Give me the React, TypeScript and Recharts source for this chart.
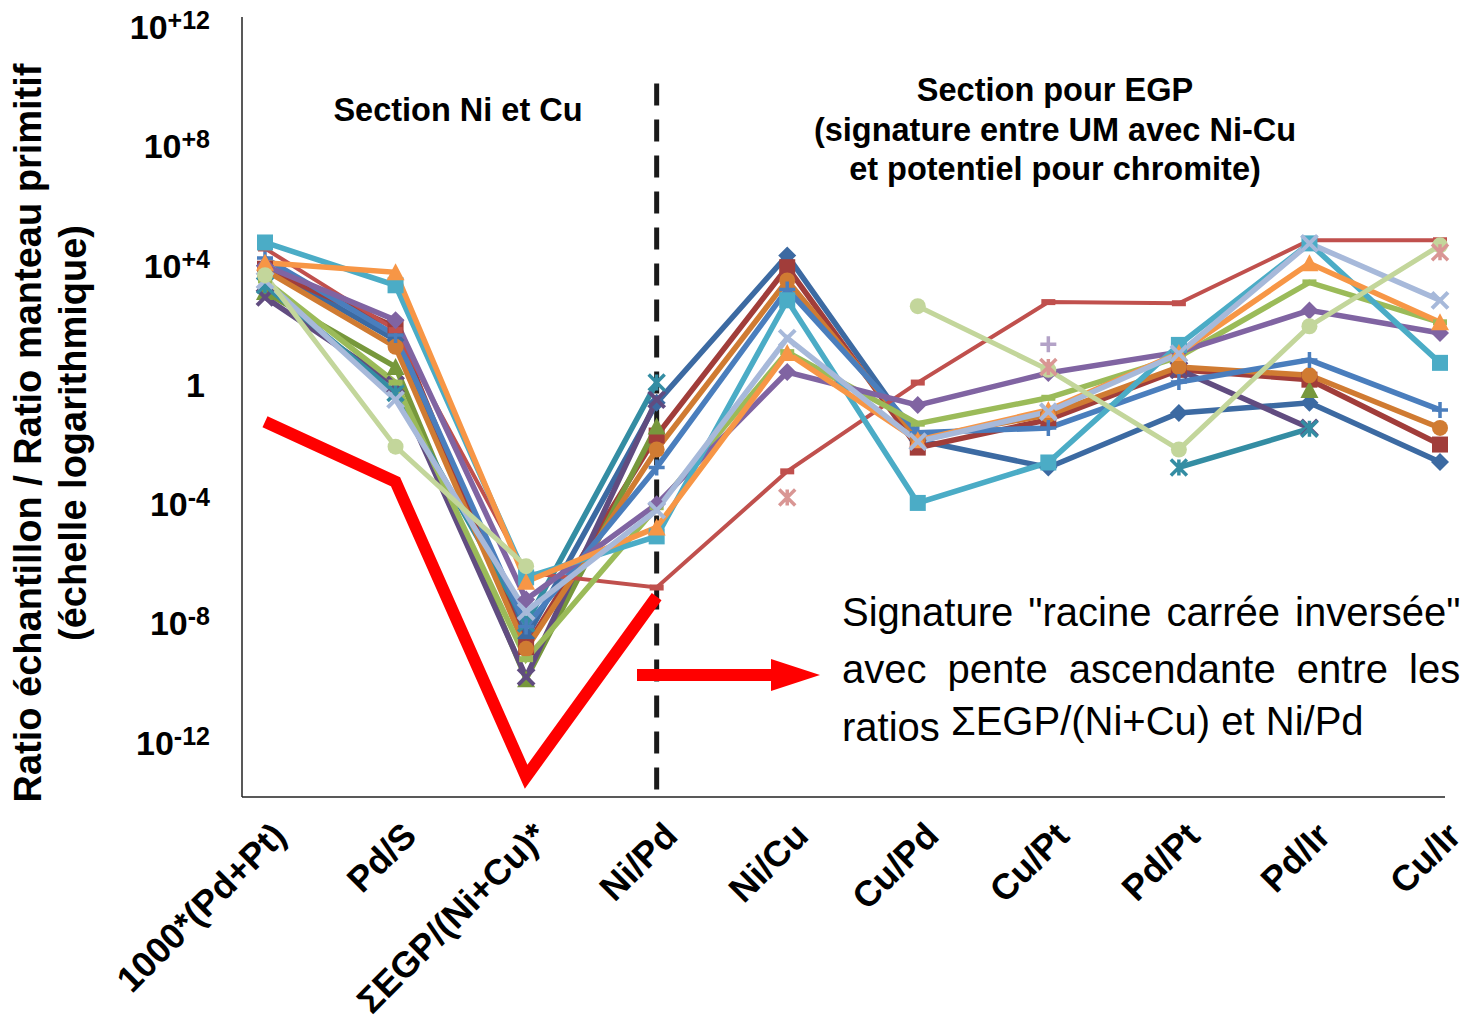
import React from 'react';
import { LineChart, Line, XAxis, YAxis, ReferenceLine } from 'recharts';

const categories = ['1000*(Pd+Pt)', 'Pd/S', 'ΣEGP/(Ni+Cu)*', 'Ni/Pd', 'Ni/Cu', 'Cu/Pd', 'Cu/Pt', 'Pd/Pt', 'Pd/Ir', 'Cu/Ir'];

// sample ratios (null = no value)
const darkBlue = [1.0e4, 32, 3.2e-9, 0.25, 2.2e4, 1.4e-2, 1.7e-3, 0.115, 0.25, 2.6e-3];
const darkRed = [7.9e3, 87, 1.6e-9, 2.0e-2, 8.9e3, 7.9e-3, 6.8e-2, 3.2, 1.5, 1.0e-2];
const olive = [1.3e3, 4.0, 1.35e-10, 4.0e-2, null, null, null, null, 0.68, null];
const darkPurple = [870, 1.0, 1.6e-10, 0.32, null, null, null, 3.2, 3.6e-2, null];
const teal = [2.2e3, 0.54, 1.0e-8, 1.2, null, null, null, 1.7e-3, 3.4e-2, null];
const darkOrange = [7.1e3, 19, 1.4e-9, 6.8e-3, 3.2e3, 1.6e-2, 0.1, 4.0, 2.1, 3.6e-2];
const blue = [1.8e4, 47, 7.9e-9, 1.7e-3, 1.6e3, 2.5e-2, 3.6e-2, 1.26, 6.9, 0.145];
const red = [3.8e4, 69, 5.0e-7, 1.6e-7, 1.26e-3, 1.2, 600, 550, 7.1e4, 7.1e4];
const green = [3.2e3, 1.2, 6.3e-10, 7.9e-5, 12.6, 5.0e-2, 0.37, 8.7, 2.75e3, 126];
const purple = [1.0e4, 148, 6.3e-8, 1.0e-4, 2.7, 0.21, 2.5, 12.6, 316, 55];
const aqua = [6.0e4, 2.2e3, 3.5e-7, 8.3e-6, 690, 1.1e-4, 2.5e-3, 22, 5.6e4, 5.5];
const orange = [1.26e4, 6.0e3, 2.5e-7, 1.66e-5, 11.7, 1.4e-2, 0.145, 11.7, 1.2e4, 126];
const lightBlue = [3.2e3, 0.32, 2.5e-8, 6.3e-5, 37, 1.26e-2, 0.126, 11.2, 5.6e4, 690];
const paleGreen = [4.8e3, 8.5e-3, 8.3e-7, null, null, 437, 3.2, 6.8e-3, 93, 4.8e4];
const lightPurple = [null, null, null, null, null, null, 23, null, null, null];
const pink = [null, null, null, null, 1.66e-4, null, 4.0, null, null, 2.8e4];
const signature = [5.8e-2, 5.6e-4, 7.2e-14, 7.9e-8, null, null, null, null, null, null];

const yTicks = [1e-12, 1e-8, 1e-4, 1, 1e4, 1e8, 1e12];
const yTickExp = ['-12', '-8', '-4', '', '+4', '+8', '+12'];
const yDomain = [1.5e-14, 2.2e12];

type Shape = 'diamond' | 'square' | 'triangle' | 'x' | 'star' | 'circle' | 'plus' | 'dash' | 'none';

const series: { key: string; values: (number | null)[]; color: string; shape: Shape; width: number }[] = [
  { key: 'darkBlue', values: darkBlue, color: '#3C6AA2', shape: 'diamond', width: 5.5 },
  { key: 'darkRed', values: darkRed, color: '#A13D3A', shape: 'square', width: 5.5 },
  { key: 'olive', values: olive, color: '#77983C', shape: 'triangle', width: 5.5 },
  { key: 'darkPurple', values: darkPurple, color: '#614C80', shape: 'x', width: 5.5 },
  { key: 'teal', values: teal, color: '#348DA3', shape: 'star', width: 5.5 },
  { key: 'darkOrange', values: darkOrange, color: '#D07B32', shape: 'circle', width: 5.5 },
  { key: 'blue', values: blue, color: '#4A7EBD', shape: 'plus', width: 5.5 },
  { key: 'red', values: red, color: '#C0504D', shape: 'dash', width: 4 },
  { key: 'green', values: green, color: '#9BBB59', shape: 'dash', width: 5.5 },
  { key: 'purple', values: purple, color: '#8064A2', shape: 'diamond', width: 5.5 },
  { key: 'aqua', values: aqua, color: '#4BACC6', shape: 'square', width: 5.5 },
  { key: 'orange', values: orange, color: '#F79646', shape: 'triangle', width: 5.5 },
  { key: 'lightBlue', values: lightBlue, color: '#A7B9DA', shape: 'x', width: 5.5 },
  { key: 'paleGreen', values: paleGreen, color: '#C3D69B', shape: 'circle', width: 5 },
  { key: 'lightPurple', values: lightPurple, color: '#B3A2C7', shape: 'plus', width: 3 },
  { key: 'pink', values: pink, color: '#D99694', shape: 'star', width: 3 },
  { key: 'signature', values: signature, color: '#FF0000', shape: 'none', width: 12 },
];

const data = categories.map((name, i) => {
  const row: Record<string, string | number | null> = { name };
  series.forEach(s => { row[s.key] = s.values[i]; });
  return row;
});

const FONT = '"Liberation Sans", Arial, sans-serif';

const Marker = ({ cx, cy, shape, color }: { cx?: number; cy?: number; shape: Shape; color: string }) => {
  if (cx == null || cy == null || isNaN(cx) || isNaN(cy) || shape === 'none') return <g />;
  const s = 8;
  switch (shape) {
    case 'diamond':
      return <polygon points={`${cx},${cy - s - 1} ${cx + s + 1},${cy} ${cx},${cy + s + 1} ${cx - s - 1},${cy}`} fill={color} />;
    case 'square':
      return <rect x={cx - s} y={cy - s} width={2 * s} height={2 * s} fill={color} />;
    case 'triangle':
      return <polygon points={`${cx},${cy - s - 1} ${cx + s + 1},${cy + s} ${cx - s - 1},${cy + s}`} fill={color} />;
    case 'circle':
      return <circle cx={cx} cy={cy} r={s} fill={color} />;
    case 'x':
      return <path d={`M${cx - s},${cy - s}L${cx + s},${cy + s}M${cx + s},${cy - s}L${cx - s},${cy + s}`} stroke={color} strokeWidth={4} />;
    case 'star':
      return <path d={`M${cx - s},${cy - s}L${cx + s},${cy + s}M${cx + s},${cy - s}L${cx - s},${cy + s}M${cx},${cy - s}L${cx},${cy + s}`} stroke={color} strokeWidth={3.5} />;
    case 'plus':
      return <path d={`M${cx - s},${cy}L${cx + s},${cy}M${cx},${cy - s}L${cx},${cy + s}`} stroke={color} strokeWidth={3.5} />;
    case 'dash':
      return <path d={`M${cx - 7},${cy}L${cx + 7},${cy}`} stroke={color} strokeWidth={6} />;
    default:
      return <g />;
  }
};

const YTick = (props: any) => {
  const { y, index } = props;
  const exp = yTickExp[index];
  if (!exp) {
    return <text x={205} y={y + 12} textAnchor="end" fontSize={34} fontWeight="bold" fontFamily={FONT} fill="#000">1</text>;
  }
  return (
    <text x={210} y={y + 12} textAnchor="end" fontSize={34} fontWeight="bold" fontFamily={FONT} fill="#000">
      10<tspan fontSize={25} dy={-10}>{exp}</tspan>
    </text>
  );
};

const XTick = (props: any) => {
  const { x, y, payload } = props;
  const px = x + 23;
  const py = y + 39;
  return (
    <text x={px} y={py} transform={`rotate(-45 ${px} ${py})`} textAnchor="end" fontSize={36} fontWeight="bold" fontFamily={FONT} fill="#000">
      {payload.value}
    </text>
  );
};

const App: React.FC = () => {
  return (
    <div style={{ position: 'absolute', left: 0, top: 0, width: 1470, height: 1026, background: '#fff' }}>
      <LineChart width={1470} height={1026} data={data} margin={{ top: 17, right: 25, bottom: 0, left: 0 }}>
        <XAxis dataKey="name" type="category" interval={0} height={229} padding={{ left: 23, right: 5 }}
          axisLine={{ stroke: '#222', strokeWidth: 1.5 }} tickLine={false} tickSize={0} tick={<XTick />} />
        <YAxis type="number" scale="log" domain={yDomain} allowDataOverflow ticks={yTicks} width={242}
          axisLine={{ stroke: '#222', strokeWidth: 1.5 }} tickLine={false} tickSize={0} tick={<YTick />} />
        <ReferenceLine segment={[{ x: 'Ni/Pd', y: 1.3e10 }, { x: 'Ni/Pd', y: 1.5e-14 }]}
          stroke="#1A1A1A" strokeWidth={5} strokeDasharray="22 14" />
        {series.map(s => (
          <Line key={s.key} dataKey={s.key} stroke={s.color} strokeWidth={s.width} isAnimationActive={false}
            connectNulls={false} type="linear"
            dot={(p: any) => <Marker key={`${s.key}-${p.index}`} cx={p.cx} cy={p.cy} shape={s.shape} color={s.color} />}
            activeDot={false} />
        ))}
      </LineChart>
      <svg width={1470} height={1026} style={{ position: 'absolute', left: 0, top: 0, pointerEvents: 'none' }}>
        <g fontFamily={FONT} fontWeight="bold" fill="#000" fontSize={38} textAnchor="middle">
          <text transform="translate(41 433) rotate(-90)">Ratio échantillon / Ratio manteau primitif</text>
          <text transform="translate(86 433) rotate(-90)">(échelle logarithmique)</text>
        </g>
        <g fontFamily={FONT} fontWeight="bold" fill="#000" fontSize={32.5} textAnchor="middle">
          <text x={458} y={121}>Section Ni et Cu</text>
          <text x={1055} y={101}>Section pour EGP</text>
          <text x={1055} y={141}>(signature entre UM avec Ni-Cu</text>
          <text x={1055} y={180}>et potentiel pour chromite)</text>
        </g>
        <g fill="#FF0000">
          <rect x={637} y={669} width={136} height={12} />
          <polygon points="771,659 820,675 771,691" />
        </g>
        <g fontFamily={FONT} fill="#000" fontSize={40}>
          <text x={842} y={626} style={{ wordSpacing: 4 }}>Signature "racine carrée inversée"</text>
          <text x={842} y={683} style={{ wordSpacing: 10 }}>avec pente ascendante entre les</text>
          <text x={842} y={741}>ratios <tspan dy={-6}>ΣEGP/(Ni+Cu) et Ni/Pd</tspan></text>
        </g>
      </svg>
    </div>
  );
};

export default App;
